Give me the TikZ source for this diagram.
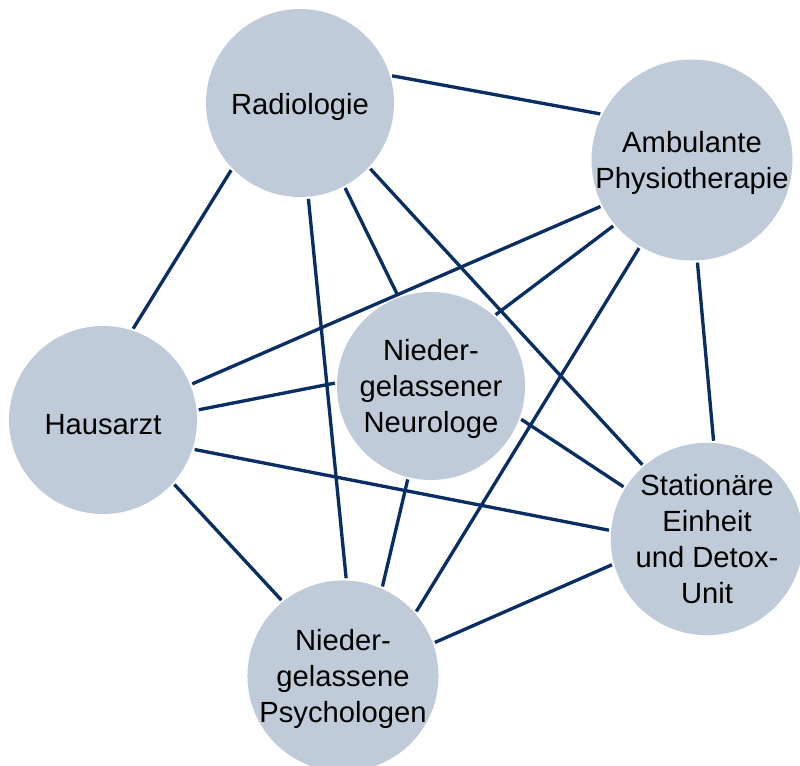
\documentclass[tikz,border=0pt]{standalone}
\usepackage{fontspec}
\setmainfont{Liberation Sans}
\usetikzlibrary{backgrounds}
\definecolor{partnergrey}{RGB}{191,203,216}
\definecolor{linkblue}{RGB}{8,46,100}

\begin{document}
\begin{tikzpicture}[x=0.75pt,y=-0.75pt,
   partner/.style={circle,fill=partnergrey,minimum size=141pt,inner sep=0pt,
      align=center,font=\fontsize{21.9}{26.8}\selectfont,
      execute at begin node={\rule{0pt}{21.5pt}}},
   lowtext/.style={text depth=-3pt},
   link/.style={draw=linkblue,line width=2.5pt,shorten <=1.5pt,shorten >=1.5pt}]
   \useasboundingbox (0,0) rectangle (800,766);

   % the partners
   \node[partner] (radio)    at (300,103) {Radiologie};
   \node[partner,lowtext] (physio) at (692,160) {Ambulante\\Physiotherapie};
   \node[partner] (hausarzt) at (103,420) {Hausarzt};
   \node[partner,lowtext] (neuro)  at (431,386) {Nieder-\\gelassener\\Neurologe};
   \node[partner] (station)  at (707,539) {Station\"are\\Einheit\\und Detox-\\Unit};
   \node[partner,lowtext] (psycho) at (343,676) {Nieder-\\gelassene\\Psychologen};

   \begin{scope}[on background layer]
     % from Radiologie
     \draw[link] (radio.17)  -- (physio.153);
     \draw[link] (radio.224) -- (hausarzt.72);
     \draw[link] (radio.-85) -- (psycho.88);
     \draw[link] (radio.-62) -- (neuro.110);
     \draw[link] (radio.-43) -- (station.131);
     % from Physiotherapie
     \draw[link] (physio.207) -- (hausarzt.22);
     \draw[link] (physio.220) -- (neuro.48);
     \draw[link] (physio.239) -- (psycho.41);
     \draw[link] (physio.-87) -- (station.86);
     % from Hausarzt
     \draw[link] (hausarzt.6)   -- (neuro.178);
     \draw[link] (hausarzt.-18) -- (station.175);
     \draw[link] (hausarzt.-42) -- (psycho.129);
     % the rest
     \draw[link] (neuro.-20)   -- (station.148);
     \draw[link] (neuro.-104)  -- (psycho.66);
     \draw[link] (station.195) -- (psycho.20);
   \end{scope}
\end{tikzpicture}
\end{document}
